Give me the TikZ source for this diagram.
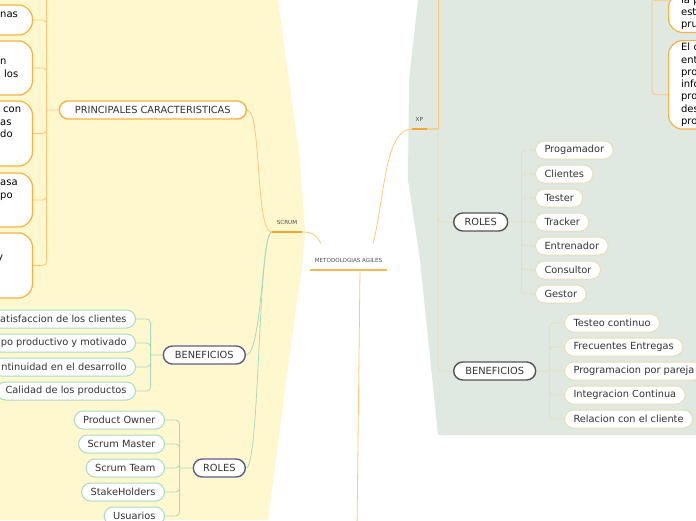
\documentclass[tikz,border=0pt]{standalone}
\usepackage{fontspec}
\setmainfont{DejaVu Sans}
\usetikzlibrary{shapes, arrows, positioning, calc}

\definecolor{scrumbg}{HTML}{FFF8CF}
\definecolor{xpbg}{HTML}{DFE8E1}
\definecolor{mmorange}{HTML}{FBB040}
\definecolor{mmline}{HTML}{FCC77A}
\definecolor{mmbar}{HTML}{F7A52D}
\definecolor{mmgreen}{HTML}{A6DCC2}
\definecolor{mmnavy}{HTML}{5E5C8C}
\definecolor{mmdark}{HTML}{555555}
\definecolor{mmtan}{HTML}{EADCB6}
\definecolor{mmtext}{HTML}{333333}

\begin{document}
\begin{tikzpicture}[x=1pt, y=-1pt, every node/.style={font=\fontsize{9.8}{12}\selectfont, text=mmtext}]
    \tikzstyle{topic} = [draw, fill=white, rounded corners=9pt, line width=1.4pt, minimum height=18pt, inner ysep=0pt]
    \tikzstyle{leaf} = [draw, fill=white, rounded corners=9pt, line width=1pt, minimum height=18pt, inner ysep=0pt, inner xsep=9pt]
    \tikzstyle{note} = [draw=mmorange, fill=white, rounded corners=14pt, line width=1.2pt, minimum width=50pt]
    \tikzstyle{notetext} = [align=left, text=black, font=\fontsize{10}{12.3}\selectfont, text width=40pt, inner xsep=12.5pt, inner ysep=2.5pt]
    \tikzstyle{frag} = [anchor=north west, align=left, inner sep=0pt, text=black, font=\fontsize{10}{12.3}\selectfont]
    \tikzstyle{tag} = [font=\fontsize{5.6}{6}\selectfont, text=black!70, inner ysep=7pt, inner xsep=0pt]
    \tikzstyle{orline} = [draw=mmline, line width=0.8pt, rounded corners=4pt]
    \tikzstyle{grline} = [draw=mmgreen, line width=0.8pt, rounded corners=4pt]
    \tikzstyle{tanline} = [draw=mmtan, line width=0.8pt, rounded corners=4pt]

    \useasboundingbox (0,0) rectangle (696,520);
    \clip (0,0) rectangle (696,520);
    \fill[scrumbg] (0,0) -- (278,0) -- (289,80) -- (300,160) -- (305,230) -- (302,270) -- (297,300) -- (268,520) -- (0,520) -- cycle;
    \fill[xpbg] (418,0) -- (409,80) -- (408,180) -- (420,260) -- (438,435) -- (696,435) -- (696,0) -- cycle;

    \node[tag, anchor=south, minimum width=77pt] (agiles) at (348.5,270) {METODOLOGIAS AGILES};
    \node[tag, anchor=south, minimum width=30pt] (scrum) at (287,232) {SCRUM};
    \node[tag, anchor=south west, inner xsep=3.5pt] (xp) at (412,129) {XP};
    \coordinate (xpend) at (438,129);
    \coordinate (xpup) at (438,-10);
    \coordinate (down) at (357,530);
    \coordinate (xpnotes) at (652,-10);

    \node[topic, draw=mmorange, anchor=east, minimum width=187pt] (pc) at (247,110) {PRINCIPALES CARACTERISTICAS};
    \node[note, anchor=east, minimum height=30pt] (sc1) at (33,20) {};
    \node[note, anchor=east, minimum height=54pt] (sc2) at (33,68) {};
    \node[note, anchor=east, minimum height=65pt] (sc3) at (33,133.5) {};
    \node[note, anchor=east, minimum height=54pt] (sc4) at (33,200) {};
    \node[note, anchor=east, minimum height=65pt] (sc5) at (33,265.5) {};
    \node[frag] (sc1t) at (0,9.1) {\strut nas};
    \node[frag] (sc2t) at (0,56.1) {\strut n\\\hspace*{4pt}los};
    \node[frag] (sc3t) at (0,104.1) {\strut\hspace*{3pt}con\\as\\do};
    \node[frag] (sc4t) at (0,177.1) {\strut asa\\po};
    \node[frag] (sc5t) at (-3,252.1) {\strut y};

    \node[topic, draw=mmnavy, anchor=east, minimum width=82pt] (sben) at (246,355) {BENEFICIOS};
    \node[leaf, draw=mmgreen, anchor=east] (sb1) at (136,319) {atisfaccion de los clientes};
    \node[leaf, draw=mmgreen, anchor=east] (sb2) at (136,343) {po productivo y motivado};
    \node[leaf, draw=mmgreen, anchor=east] (sb3) at (136,367) {ntinuidad en el desarrollo};
    \node[leaf, draw=mmgreen, anchor=east] (sb4) at (136,391) {Calidad de los productos};

    \node[topic, draw=mmnavy, anchor=east, minimum width=52pt] (sroles) at (246,468) {ROLES};
    \node[leaf, draw=mmgreen, anchor=east] (sr1) at (165,420) {Product Owner};
    \node[leaf, draw=mmgreen, anchor=east] (sr2) at (165,444) {Scrum Master};
    \node[leaf, draw=mmgreen, anchor=east] (sr3) at (165,468) {Scrum Team};
    \node[leaf, draw=mmgreen, anchor=east] (sr4) at (165,492) {StakeHolders};
    \node[leaf, draw=mmgreen, anchor=east] (sr5) at (165,516) {Usuarios};

    \node[note, notetext, anchor=south west] (xpa) at (668,33) {la p\\est\\pru};
    \node[note, notetext, anchor=north west] (xpb) at (668,40) {El c\\ent\\pro\\info\\pro\\des\\pro};

    \node[topic, draw=mmdark, anchor=west, minimum width=54pt] (xroles) at (453,222) {ROLES};
    \node[leaf, draw=mmtan, anchor=west] (xr1) at (535,150) {Progamador};
    \node[leaf, draw=mmtan, anchor=west] (xr2) at (535,174) {Clientes};
    \node[leaf, draw=mmtan, anchor=west] (xr3) at (535,198) {Tester};
    \node[leaf, draw=mmtan, anchor=west] (xr4) at (535,222) {Tracker};
    \node[leaf, draw=mmtan, anchor=west] (xr5) at (535,246) {Entrenador};
    \node[leaf, draw=mmtan, anchor=west] (xr6) at (535,270) {Consultor};
    \node[leaf, draw=mmtan, anchor=west] (xr7) at (535,294) {Gestor};

    \node[topic, draw=mmdark, anchor=west, minimum width=82pt] (xben) at (453,371) {BENEFICIOS};
    \node[leaf, draw=mmtan, anchor=west] (xb1) at (564,323) {Testeo continuo};
    \node[leaf, draw=mmtan, anchor=west] (xb2) at (564,347) {Frecuentes Entregas};
    \node[leaf, draw=mmtan, anchor=west] (xb3) at (564,371) {Programacion por pareja};
    \node[leaf, draw=mmtan, anchor=west] (xb4) at (564,395) {Integracion Continua};
    \node[leaf, draw=mmtan, anchor=west] (xb5) at (564,419) {Relacion con el cliente};

    \coordinate (pcj) at ($(pc.west)+(-12,0)$);
    \coordinate (sbj) at ($(sben.west)+(-12,0)$);
    \coordinate (srj) at ($(sroles.west)+(-13,0)$);
    \coordinate (xrj) at ($(xroles.east)+(13,0)$);
    \coordinate (xbj) at ($(xben.east)+(13,0)$);

    \draw[mmbar!80, line width=1.5pt] (agiles.south west) -- (agiles.south east);
    \draw[mmbar, line width=2pt] (scrum.south west) -- (scrum.south east);
    \draw[mmbar, line width=2pt] (xp.south west) -- (xp.south east);
    \draw[mmtan!80!mmbar, line width=2pt] (xp.south east) -- (xpend);

    \draw[orline] (scrum.south east) .. controls +(10,0) and +(-5,-9) .. ($(agiles.north west)+(11,-8)$);
    \draw[orline] ($(agiles.north east)+(-14,-8)$) .. controls +(12,-50) and +(-27,0) .. (xp.south west);
    \draw[orline] ($(agiles.south)+(11.5,0)$) -- (down);
    \draw[orline] (pc.east) .. controls +(15,0) and +(-17,0) .. (scrum.south west);
    \draw[orline] (pc.west) -- (pcj) (pcj) -- ++(0,-130) (pcj) |- (sc1.east) (pcj) |- (sc2.east) (pcj) |- (sc3.east) (pcj) |- (sc4.east) (pcj) |- (sc5.east);
    \draw[orline] (xpend) -- (xpup);
    \draw[orline] (xpnotes) |- ($(xpa.west)+(0,-12)$) (xpnotes) |- ($(xpb.west)+(0,10)$);

    \draw[grline] (scrum.south west) .. controls +(-10,0) and +(16,0) .. (sben.east);
    \draw[grline] (scrum.south west) .. controls +(-14,0) and +(14,0) .. (sroles.east);
    \draw[grline] (sben.west) -- (sbj) (sbj) |- (sb1.east) (sbj) |- (sb2.east) (sbj) |- (sb3.east) (sbj) |- (sb4.east);
    \draw[grline] (sroles.west) -- (srj) (srj) |- (sr1.east) (srj) |- (sr2.east) (srj) |- (sr3.east) (srj) |- (sr4.east) (srj) |- (sr5.east);

    \draw[tanline] (xpend) |- (xroles.west) (xpend) |- (xben.west);
    \draw[tanline] (xroles.east) -- (xrj) (xrj) |- (xr1.west) (xrj) |- (xr2.west) (xrj) |- (xr3.west) (xrj) |- (xr4.west) (xrj) |- (xr5.west) (xrj) |- (xr6.west) (xrj) |- (xr7.west);
    \draw[tanline] (xben.east) -- (xbj) (xbj) |- (xb1.west) (xbj) |- (xb2.west) (xbj) |- (xb3.west) (xbj) |- (xb4.west) (xbj) |- (xb5.west);
\end{tikzpicture}
\end{document}
